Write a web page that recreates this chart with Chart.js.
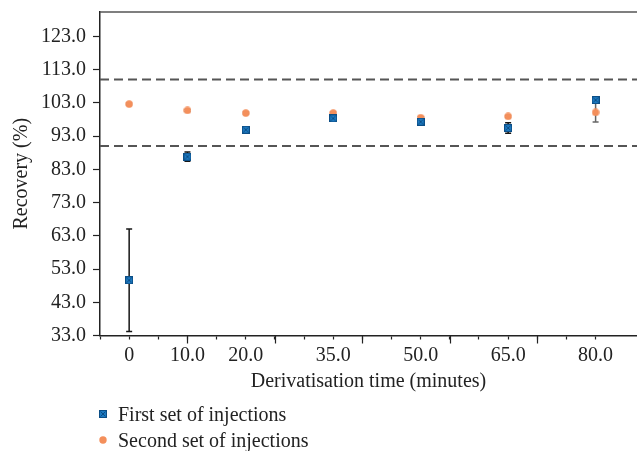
<!DOCTYPE html>
<html>
<head>
<meta charset="utf-8">
<script src="https://cdn.jsdelivr.net/npm/chart.js@4.4.1/dist/chart.umd.min.js"></script>
<style>
  body { margin: 0; background: #fff; }
  .wrap { position: relative; width: 637px; height: 451px; }
  .legend { position: absolute; left: 99px; top: 401px; font: 20px "Liberation Serif", serif; color: #222; }
  .legend div { height: 26px; line-height: 26px; display: flex; align-items: center; }
  .legend canvas { margin-right: 11px; }
</style>
</head>
<body>
<div class="wrap">
  <canvas id="recoveryChart" width="637" height="451"></canvas>
  <div class="legend" id="legend"></div>
</div>
<script>
// derivatisation times (minutes)
const times = [0, 10, 20, 35, 50, 65, 80];
const firstSet = [49.6, 86.8, 94.9, 98.3, 97.3, 95.4, 103.8];
const firstErr = [15.4, 1.4, 0.5, 0.5, 0.5, 1.6, 0.8];
const secondSet = [102.6, 100.7, 99.9, 99.9, 98.5, 98.9, 100.1];
const secondErr = [0.3, 0.3, 0.3, 0.3, 0.3, 0.3, 2.9];
const limits = [90, 110];
const xTickValues = [-5, 0, 5, 10, 15, 20, 25, 30, 35, 40, 45, 50, 55, 60, 65, 70, 75, 80];
const xLabelled = [0, 10, 20, 35, 50, 65, 80];
const xLabels = ['0', '10.0', '20.0', '35.0', '50.0', '65.0', '80.0'];
const longTicks = [10, 25, 40, 55, 70];
const yTicks = [33, 43, 53, 63, 73, 83, 93, 103, 113, 123];
const xMin = -5, xMax = 87.1, yMin = 33, yMax = 130.3;

const serif = '"Liberation Serif", serif';
const blue = '#1c79c0', orange = '#f48f5b';

function squareMarker() {
    const c = document.createElement('canvas');
    c.width = 8; c.height = 8;
    const g = c.getContext('2d');
    g.fillStyle = blue;
    g.fillRect(0.5, 0.5, 7, 7);
    g.strokeStyle = '#0c4e86';
    g.lineWidth = 1;
    g.strokeRect(0.5, 0.5, 7, 7);
    g.beginPath();
    g.moveTo(1.5, 1.5); g.lineTo(6.5, 6.5);
    g.moveTo(6.5, 1.5); g.lineTo(1.5, 6.5);
    g.stroke();
    return c;
}
function circleMarker() {
    const c = document.createElement('canvas');
    c.width = 8; c.height = 8;
    const g = c.getContext('2d');
    g.fillStyle = orange;
    g.beginPath();
    g.arc(4, 4, 3.7, 0, Math.PI * 2);
    g.fill();
    return c;
}

const errorBars = {
    id: 'errorBars',
    beforeDatasetsDraw(chart) {
        const {ctx, chartArea, scales: {x, y}} = chart;
        ctx.save();
        // top frame line
        ctx.strokeStyle = '#555';
        ctx.lineWidth = 1.5;
        ctx.beginPath();
        ctx.moveTo(chartArea.left, chartArea.top);
        ctx.lineTo(chartArea.right, chartArea.top);
        ctx.stroke();

        [[secondSet, secondErr, '#666'], [firstSet, firstErr, '#161616']].forEach(([vals, errs, col]) => {
            ctx.strokeStyle = col;
            ctx.lineWidth = 1.5;
            vals.forEach((v, i) => {
                const px = x.getPixelForValue(times[i]);
                const top = y.getPixelForValue(v + errs[i]);
                const bot = y.getPixelForValue(v - errs[i]);
                ctx.beginPath();
                ctx.moveTo(px, top); ctx.lineTo(px, bot);
                ctx.moveTo(px - 3, top); ctx.lineTo(px + 3, top);
                ctx.moveTo(px - 3, bot); ctx.lineTo(px + 3, bot);
                ctx.stroke();
            });
        });
        ctx.restore();
    },
    afterDraw(chart) {
        const {ctx, chartArea, scales: {x}} = chart;
        ctx.save();
        ctx.strokeStyle = '#222';
        ctx.lineWidth = 1.2;
        longTicks.forEach(v => {
            const px = Math.round(x.getPixelForValue(v)) + 0.5;
            ctx.beginPath();
            ctx.moveTo(px, chartArea.bottom);
            ctx.lineTo(px, chartArea.bottom + 8);
            ctx.stroke();
        });
        ctx.restore();
    }
};

const ctx = document.getElementById('recoveryChart').getContext('2d');
const limitSets = limits.map(l => ({
    type: 'line',
    data: [{x: xMin, y: l}, {x: xMax, y: l}],
    borderColor: '#555',
    borderWidth: 2,
    borderDash: [9, 5],
    pointRadius: 0,
    order: 3
}));

new Chart(ctx, {
    type: 'scatter',
    data: {
        datasets: [{
            label: 'First set of injections',
            data: times.map((t, i) => ({x: t, y: firstSet[i]})),
            pointStyle: squareMarker(),
            order: 0
        }, {
            label: 'Second set of injections',
            data: times.map((t, i) => ({x: t, y: secondSet[i]})),
            pointStyle: circleMarker(),
            order: 1
        }, ...limitSets]
    },
    options: {
        responsive: false,
        animation: false,
        layout: { autoPadding: false, padding: { top: 12, right: 0, left: 0, bottom: 0 } },
        plugins: { legend: { display: false }, tooltip: { enabled: false } },
        scales: {
            x: {
                type: 'linear',
                min: xMin,
                max: xMax,
                afterBuildTicks: s => { s.ticks = xTickValues.map(v => ({value: v})); },
                afterFit: s => { s.height = 115.5; s.paddingLeft = 0; s.paddingRight = 0; },
                ticks: {
                    autoSkip: false,
                    maxRotation: 0,
                    padding: 4,
                    color: '#222',
                    font: { family: serif, size: 20 },
                    callback: v => {
                        const k = xLabelled.indexOf(v);
                        return k < 0 ? '' : xLabels[k];
                    }
                },
                grid: { drawOnChartArea: false, tickLength: 4, tickColor: '#222', tickWidth: 1.2 },
                border: { color: '#222', width: 1.5 },
                title: {
                    display: true,
                    text: 'Derivatisation time (minutes)',
                    color: '#222',
                    font: { family: serif, size: 20 },
                    padding: { top: 0, bottom: 57 }
                }
            },
            y: {
                min: yMin,
                max: yMax,
                afterBuildTicks: s => { s.ticks = yTicks.map(v => ({value: v})); },
                afterFit: s => { s.width = 100; s.paddingTop = 0; s.paddingBottom = 0; },
                ticks: {
                    padding: 7,
                    color: '#222',
                    font: { family: serif, size: 20 },
                    callback: v => v.toFixed(1)
                },
                grid: { drawOnChartArea: false, tickLength: 7, tickColor: '#222', tickWidth: 1.2 },
                border: { color: '#222', width: 1.5 },
                title: {
                    display: true,
                    text: 'Recovery (%)',
                    color: '#222',
                    font: { family: serif, size: 20 },
                    padding: { top: 10, bottom: 0 }
                }
            }
        }
    },
    plugins: [errorBars]
});

// legend below the plot, one entry per row
const legend = document.getElementById('legend');
[['First set of injections', squareMarker()], ['Second set of injections', circleMarker()]].forEach(([text, mark]) => {
    const row = document.createElement('div');
    row.appendChild(mark);
    row.appendChild(document.createTextNode(text));
    legend.appendChild(row);
});
</script>
</body>
</html>
